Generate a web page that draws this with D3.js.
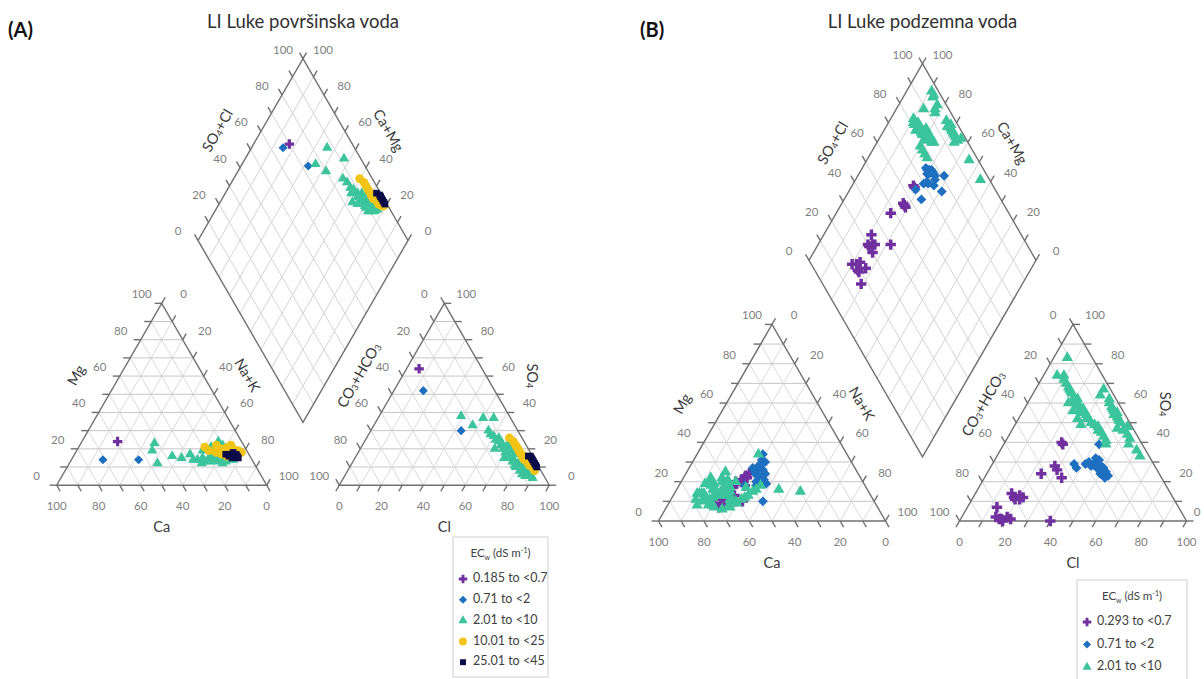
<!DOCTYPE html>
<html>
<head>
<meta charset="utf-8">
<script src="https://cdn.jsdelivr.net/npm/d3@7"></script>
<style>
  body { margin: 0; background: #fff; }
  svg { display: block; font-family: Lato, "Open Sans", sans-serif; }
</style>
</head>
<body>
<div id="content"></div>
<script>
// each sample: [Mg, Na+K, SO4, Cl] in % meq (Ca and CO3+HCO3 are the rest)
const tickValues = [0, 20, 40, 60, 80, 100];
const gridValues = [10, 20, 30, 40, 50, 60, 70, 80, 90];

const classLabelsA = ['0.185 to <0.7', '0.71 to <2', '2.01 to <10', '10.01 to <25', '25.01 to <45'];
const classLabelsB = ['0.293 to <0.7', '0.71 to <2', '2.01 to <10'];

const A_purple = [[24, 17, 64, 6]];
const A_blue = [[14, 15, 52, 14], [14, 32, 30, 43]];
const A_green = [
  [23, 35, 38, 39], [19, 36, 37, 50], [12, 42, 33, 47], [16, 47, 37, 55], [15, 52, 30, 56],
  [17, 55, 27, 60], [14, 58, 25, 62], [19, 60, 24, 64], [15, 62, 22, 66], [21, 63, 26, 63],
  [13, 64, 20, 68], [16, 65, 21, 70], [18, 66, 18, 70], [14, 67, 19, 72], [20, 67, 23, 66],
  [15, 68, 16, 73], [17, 69, 17, 75], [13, 70, 14, 76], [19, 70, 15, 74], [16, 71, 13, 77],
  [14, 72, 12, 79], [18, 72, 14, 80], [15, 73, 11, 81], [17, 73, 10, 79], [13, 74, 9, 83],
  [16, 74, 12, 84], [19, 74, 8, 82], [14, 75, 7, 85], [17, 75, 9, 86], [15, 76, 6, 87],
  [16, 77, 5, 89], [14, 77, 8, 88], [18, 76, 20, 72], [22, 68, 24, 69], [20, 71, 11, 78],
  [12, 73, 6, 84], [15, 70, 4, 90], [17, 72, 5, 86], [13, 66, 15, 71], [24, 65, 13, 76],
  [14, 60, 28, 58], [12, 63, 20, 64]
];
const A_yellow = [
  [21, 60, 26, 68], [19, 63, 24, 71], [22, 65, 22, 73], [18, 67, 20, 75], [20, 68, 18, 77],
  [17, 70, 17, 78], [21, 71, 15, 80], [19, 72, 14, 81], [16, 73, 13, 83], [20, 74, 12, 84],
  [18, 75, 11, 85], [17, 76, 16, 80], [19, 77, 10, 87], [16, 78, 9, 88], [18, 79, 12, 86],
  [20, 70, 21, 74], [22, 72, 19, 76], [17, 74, 8, 89]
];
const A_navy = [
  [17, 72, 16, 82], [16, 74, 15, 84], [18, 75, 14, 85], [15, 76, 13, 86],
  [17, 77, 12, 87], [16, 78, 11, 88], [15, 79, 10, 89], [17, 75, 16, 83]
];

const B_purple = [
  [22, 28, 40, 25], [23, 27, 39, 26],
  [20, 24, 24, 24], [24, 28, 28, 28], [18, 29, 22, 34], [22, 27, 26, 30],
  [15, 22, 12, 18], [17, 24, 11, 21], [12, 23, 14, 16], [19, 25, 13, 20], [14, 21, 12, 22], [21, 26, 11, 19],
  [10, 32, 0, 40],
  [11, 22, 7, 13], [9, 20, 1, 17], [13, 27, 1, 22], [8, 25, 1, 18], [10, 29, 2, 15], [12, 24, 0, 19], [7, 23, 2, 20]
];
const B_blue = [
  [34, 29, 30, 45], [28, 30, 28, 48], [24, 31, 27, 50], [19, 38, 39, 42], [10, 41, 29, 47],
  [18, 29, 29, 36], [26, 33, 25, 52], [30, 32, 31, 46], [22, 34, 23, 54], [25, 30, 32, 44],
  [27, 28, 26, 49], [21, 36, 24, 50], [29, 31, 22, 53], [23, 32, 30, 42], [31, 30, 27, 47],
  [20, 33, 28, 44], [24, 35, 25, 51], [26, 31, 29, 41], [18, 34, 27, 38]
];
const B_green = [
  [14, 12, 83, 6], [18, 14, 74, 6], [12, 15, 74, 9], [20, 13, 72, 10], [16, 16, 70, 12],
  [10, 14, 68, 14], [22, 17, 66, 16], [15, 18, 65, 17], [19, 15, 63, 19], [13, 19, 62, 21],
  [17, 16, 60, 22], [21, 20, 58, 24], [11, 17, 57, 26], [16, 21, 55, 27], [14, 13, 54, 29],
  [20, 18, 52, 30], [8, 20, 50, 33], [18, 22, 49, 35], [12, 18, 48, 37], [15, 24, 46, 38],
  [9, 19, 45, 40], [17, 23, 43, 42], [13, 25, 41, 44], [7, 21, 39, 45], [19, 11, 61, 20],
  [22, 12, 56, 25], [14, 10, 67, 15], [11, 11, 59, 23],
  [7, 28, 67, 30], [9, 30, 60, 36], [11, 31, 56, 40], [13, 33, 53, 43], [16, 35, 50, 46],
  [18, 36, 48, 50], [8, 27, 46, 49], [10, 29, 44, 52], [12, 32, 42, 54], [15, 34, 39, 55],
  [17, 30, 51, 45], [34, 27, 54, 41], [6, 25, 57, 39],
  [19, 13, 62, 35], [16, 17, 58, 38],
  [16, 45, 33, 63], [15, 55, 36, 60], [14, 11, 55, 42], [8, 13, 52, 44], [8, 18, 47, 46], [25, 17, 64, 30],
  [17, 20, 60, 18], [13, 22, 56, 22], [20, 24, 52, 26], [11, 26, 49, 29]
];

const styles = [
  { symbol: d3.symbolCross, size: 50, color: '#7030a0' },
  { symbol: d3.symbolDiamond2, size: 52, color: '#1f6fc0' },
  { symbol: d3.symbolTriangle, size: 46, color: '#3cc59c' },
  { symbol: d3.symbolCircle, size: 60, color: '#f2c416' },
  { symbol: d3.symbolSquare, size: 44, color: '#0b0b4a' }
];

const panels = [
  { label: '(A)', title: 'LI Luke površinska voda', labelX: 8, x0: 56.7, base: 485.2, s: 210, gap: 72.6, mk: 1,
    series: [A_purple, A_blue, A_green, A_yellow, A_navy], classes: classLabelsA,
    legend: { x: 453, y: 537, w: 95, h: 140, row: 20.8, first: 42 } },
  { label: '(B)', title: 'LI Luke podzemna voda', labelX: 640, x0: 658.5, base: 521, s: 227, gap: 74, mk: 1.2,
    series: [B_purple, B_blue, B_green], classes: classLabelsB,
    legend: { x: 1077, y: 580, w: 110, h: 110, row: 22.5, first: 42 } }
];

const R3 = Math.sqrt(3) / 2;
const tickLen = 7;

const svg = d3.select('#content').append('svg').attr('width', 1204).attr('height', 679);

function drawPanel(p) {
  const sc = d3.scaleLinear().domain([0, 100]).range([0, p.s]);
  const ax0 = p.x0 + p.s + p.gap;
  const bx = p.x0 + p.s + p.gap / 2, by = p.base - p.gap / 2 * Math.sqrt(3);
  // position functions
  const cat = (mg, nak) => [p.x0 + sc(nak) + sc(mg) / 2, p.base - sc(mg) * R3];
  const an = (so4, cl) => [ax0 + sc(cl) + sc(so4) / 2, p.base - sc(so4) * R3];
  const dia = (a, b) => [bx + (sc(a) - sc(b)) / 2, by - (sc(a) + sc(b)) * R3];

  const g = svg.append('g');
  const line = d3.line();

  // grids
  const grid = g.append('g').attr('fill', 'none').attr('stroke-width', 1);
  gridValues.forEach(v => {
    grid.append('path').attr('d', line([cat(v, 0), cat(v, 100 - v)])).attr('stroke', '#c6c6c6');
    grid.append('path').attr('d', line([cat(0, v), cat(100 - v, v)])).attr('stroke', '#dadada');
    grid.append('path').attr('d', line([cat(0, 100 - v), cat(100 - v, 0)])).attr('stroke', '#dadada');
    grid.append('path').attr('d', line([an(v, 0), an(v, 100 - v)])).attr('stroke', '#c6c6c6');
    grid.append('path').attr('d', line([an(0, v), an(100 - v, v)])).attr('stroke', '#dadada');
    grid.append('path').attr('d', line([an(100 - v, 0), an(0, 100 - v)])).attr('stroke', '#dadada');
    grid.append('path').attr('d', line([dia(v, 0), dia(v, 100)])).attr('stroke', '#d4d4d4');
    grid.append('path').attr('d', line([dia(0, v), dia(100, v)])).attr('stroke', '#d4d4d4');
  });

  // outlines
  const edge = g.append('g').attr('fill', 'none').attr('stroke', '#707070').attr('stroke-width', 1.4);
  edge.append('path').attr('d', line([cat(0, 0), cat(0, 100), cat(100, 0)]) + 'Z');
  edge.append('path').attr('d', line([an(0, 0), an(0, 100), an(100, 0)]) + 'Z');
  edge.append('path').attr('d', line([dia(0, 0), dia(100, 0), dia(100, 100), dia(0, 100)]) + 'Z');

  // ticks
  const tk = (pt, dx, dy) => line([pt, [pt[0] + dx * tickLen, pt[1] + dy * tickLen]]);
  d3.range(0, 101, 10).forEach(v => {
    edge.append('path').attr('d', tk(cat(v, 0), -1, 0));
    edge.append('path').attr('d', tk(cat(100 - v, v), 0.5, -R3));
    edge.append('path').attr('d', tk(cat(0, 100 - v), 0.5, R3));
    edge.append('path').attr('d', tk(an(v, 100 - v), 1, 0));
    edge.append('path').attr('d', tk(an(100 - v, 0), -0.5, -R3));
    edge.append('path').attr('d', tk(an(0, v), -0.5, R3));
    edge.append('path').attr('d', tk(dia(v, 100), -0.5, -R3));
    edge.append('path').attr('d', tk(dia(100, v), 0.5, -R3));
  });

  // tick labels
  const lab = g.append('g').attr('fill', '#7f7f7f').attr('font-size', 11.5)
    .attr('text-anchor', 'middle').attr('dominant-baseline', 'middle');
  const put = (pt, dx, dy, t) => lab.append('text')
    .attr('x', Math.min(pt[0] + dx, 1197)).attr('y', pt[1] + dy).text(t);
  tickValues.forEach(v => {
    put(cat(v, 0), -20, -8, v);
    put(cat(100 - v, v), 22, -8, v);
    put(cat(0, 100 - v), 0, 22, v);
    put(an(100 - v, 0), -20, -8, v);
    put(an(v, 100 - v), 22, -8, v);
    put(an(0, v), 0, 22, v);
    put(dia(v, 100), -20, -8, v);
    put(dia(100, v), 20, -8, v);
  });

  // axis titles
  const ttl = g.append('g').attr('fill', '#3a3a3a').attr('font-size', 14.5)
    .attr('text-anchor', 'middle').attr('dominant-baseline', 'middle');
  const mid = (a, b) => [(a[0] + b[0]) / 2, (a[1] + b[1]) / 2];
  const off = 37;
  const title = (pt, nx, ny, rot, parts) => {
    const t = ttl.append('text')
      .attr('transform', `translate(${pt[0] + nx * off},${pt[1] + ny * off}) rotate(${rot})`);
    parts.forEach(([txt, sub]) => {
      const sp = t.append('tspan').text(txt);
      if (sub) sp.attr('font-size', 9).attr('dy', 3);
      else if (sub === false) sp.attr('dy', -3);
    });
  };
  title(mid(cat(0, 0), cat(100, 0)), -R3, -0.5, -60, [['Mg']]);
  title(mid(cat(100, 0), cat(0, 100)), R3, -0.5, 60, [['Na+K']]);
  title(mid(an(0, 0), an(100, 0)), -R3, -0.5, -60, [['CO'], ['3', true], ['+HCO', false], ['3', true]]);
  title(mid(an(100, 0), an(0, 100)), R3 * 1.08, -0.5, 90, [['SO'], ['4', true]]);
  title(mid(dia(0, 100), dia(100, 100)), -R3, -0.5, -60, [['SO'], ['4', true], ['+Cl', false]]);
  title(mid(dia(100, 0), dia(100, 100)), R3, -0.5, 60, [['Ca+Mg']]);
  ttl.append('text').attr('x', cat(0, 50)[0]).attr('y', p.base + 43).text('Ca');
  ttl.append('text').attr('x', an(0, 50)[0]).attr('y', p.base + 43).text('Cl');

  // panel titles
  g.append('text').attr('x', dia(100, 100)[0]).attr('y', 28).attr('text-anchor', 'middle')
    .attr('font-size', 18.5).attr('fill', '#303030').text(p.title);
  g.append('text').attr('x', p.labelX).attr('y', 37).attr('font-size', 20).attr('font-weight', 'bold')
    .attr('fill', '#111').text(p.label);

  // samples
  const pts = g.append('g');
  p.series.forEach((data, i) => {
    const st = styles[i];
    const sym = d3.symbol().type(st.symbol).size(st.size * p.mk);
    data.forEach(d => {
      const [mg, nak, so4, cl] = d;
      const ca = 100 - mg - nak;
      const anS = so4 + cl;
      const positions = [cat(mg, nak), an(so4, cl), dia(anS, ca + mg)];
      positions.forEach(pos => {
        pts.append('path').attr('d', sym()).attr('fill', st.color)
          .attr('transform', `translate(${pos[0]},${pos[1]})`);
      });
    });
  });

  // legend
  const L = p.legend;
  const lg = g.append('g').attr('transform', `translate(${L.x},${L.y})`);
  lg.append('rect').attr('width', L.w).attr('height', L.h).attr('fill', '#fff').attr('stroke', '#d0d0d0');
  const lt = lg.append('text').attr('x', L.w / 2).attr('y', 20).attr('text-anchor', 'middle')
    .attr('font-size', 11.5).attr('fill', '#404040');
  lt.append('tspan').text('EC');
  lt.append('tspan').text('w').attr('font-size', 7).attr('dy', 3);
  lt.append('tspan').text(' (dS m').attr('dy', -3);
  lt.append('tspan').text('-1').attr('font-size', 7).attr('dy', -4);
  lt.append('tspan').text(')').attr('dy', 4);
  p.classes.forEach((c, i) => {
    const st = styles[i];
    const y = L.first + i * L.row;
    lg.append('path').attr('d', d3.symbol().type(st.symbol).size(st.size * 0.8)())
      .attr('fill', st.color).attr('transform', `translate(10,${y})`);
    lg.append('text').attr('x', 20).attr('y', y).attr('dominant-baseline', 'middle')
      .attr('font-size', 12.5).attr('fill', '#404040').text(c);
  });
}

panels.forEach(drawPanel);
</script>
</body>
</html>
